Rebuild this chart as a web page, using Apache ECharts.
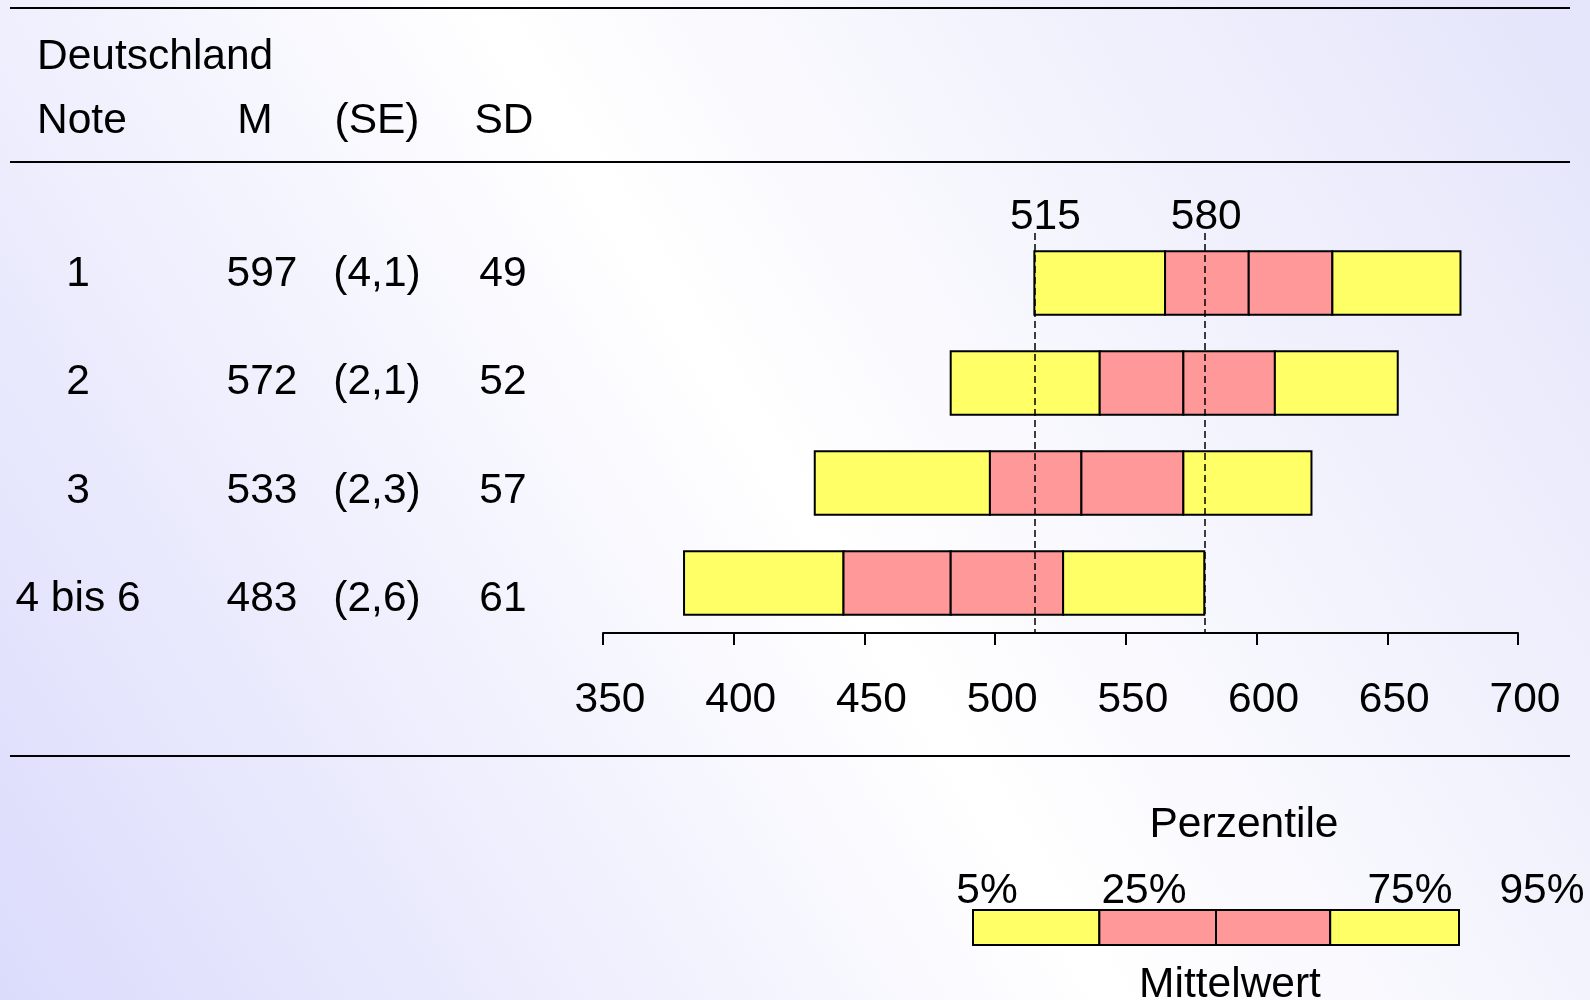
<!DOCTYPE html>
<html>
<head>
<meta charset="utf-8">
<title>Deutschland Perzentile</title>
<script src="https://cdn.jsdelivr.net/npm/echarts@6/dist/echarts.min.js"></script>
<style>
  html, body { margin: 0; padding: 0; }
  #main { width: 1590px; height: 1000px; }
</style>
</head>
<body>
<div id="main"></div>
<script>
  // Daten
  var notes = ['1', '2', '3', '4 bis 6']
  var meanVals = [597, 572, 533, 483]
  var seVals = [4.1, 2.1, 2.3, 2.6]
  var sdVals = [49, 52, 57, 61]
  var p5 = [515, 483, 431, 381]
  var p25 = [565, 540, 498, 442]
  var p75 = [629, 607, 572, 526]
  var p95 = [678, 654, 621, 580]
  var refLines = [515, 580]
  var axisTicks = [350, 400, 450, 500, 550, 600, 650, 700]
  // Legende: Lage der Trennstriche im Schema (0..100)
  var legendKey = [0, 26, 50, 73.5, 100]

  var FONT = '"Liberation Sans", Arial, Helvetica, sans-serif'
  var FS = 42.5
  var YELLOW = '#ffff66'
  var PINK = '#ff9999'

  var bandData = notes.map(function (n, i) {
    return [i, p5[i], p25[i], meanVals[i], p75[i], p95[i]]
  })

  function renderBand(ratio) {
    return function (params, api) {
      var cat = api.value(0)
      var h = api.size([0, 1])[1] * ratio
      var fills = [YELLOW, PINK, PINK, YELLOW]
      var children = []
      for (var k = 0; k < 4; k++) {
        var a = api.coord([api.value(k + 1), cat])
        var b = api.coord([api.value(k + 2), cat])
        children.push({
          type: 'rect',
          shape: { x: a[0], y: a[1] - h / 2, width: b[0] - a[0], height: h },
          style: { fill: fills[k], stroke: '#000', lineWidth: 2 },
        })
      }
      return { type: 'group', children: children }
    }
  }

  function seText(v) {
    return '(' + v.toFixed(1).replace('.', ',') + ')'
  }

  function txt(s, x, y, align) {
    return {
      type: 'text',
      x: x,
      y: y,
      silent: true,
      style: {
        text: s,
        fill: '#000',
        font: FS + 'px ' + FONT,
        textAlign: align || 'left',
        textVerticalAlign: 'middle',
      },
    }
  }

  function rule(y) {
    return {
      type: 'line',
      silent: true,
      shape: { x1: 10, y1: y, x2: 1570, y2: y },
      style: { stroke: '#000', lineWidth: 2 },
    }
  }

  var cell = function (w) {
    return { width: w, align: 'center', fontSize: FS, fontFamily: FONT, color: '#000' }
  }

  var myChart = echarts.init(document.getElementById('main'))

  var option = {
    animation: false,
    backgroundColor: new echarts.graphic.LinearGradient(0, 1, 1, 0, [
      { offset: 0, color: '#dbdbfc' },
      { offset: 0.5, color: '#ffffff' },
      { offset: 1, color: '#e4e4fb' },
    ]),
    textStyle: { fontFamily: FONT },
    grid: [
      { left: 603, right: 72, top: 233, height: 400 },
      { left: 576, width: 1, top: 220.4, height: 432.8 },
      { left: 973, width: 486, top: 910, height: 35 },
    ],
    xAxis: [
      {
        gridIndex: 0,
        type: 'value',
        min: axisTicks[0],
        max: axisTicks[axisTicks.length - 1],
        interval: 50,
        splitLine: { show: false },
        axisLine: { show: true, onZero: false, lineStyle: { color: '#000', width: 2 } },
        axisTick: { show: true, length: 12, lineStyle: { color: '#000', width: 2 } },
        axisLabel: {
          fontSize: FS,
          color: '#000',
          margin: 46,
          padding: [0, 0, 0, 14],
          fontFamily: FONT,
        },
      },
      { gridIndex: 1, type: 'value', show: false, min: 0, max: 1 },
      { gridIndex: 2, type: 'value', show: false, min: 0, max: 100 },
    ],
    yAxis: [
      {
        gridIndex: 0,
        type: 'category',
        data: notes,
        inverse: true,
        show: false,
      },
      {
        gridIndex: 1,
        type: 'category',
        data: notes,
        inverse: true,
        axisLine: { show: false },
        axisTick: { show: false },
        splitLine: { show: false },
        axisLabel: {
          margin: 0,
          align: 'right',
          fontSize: FS,
          color: '#000',
          fontFamily: FONT,
          formatter: function (value, idx) {
            return '{n|' + value + '}{m|' + meanVals[idx] + '}{se|' +
              seText(seVals[idx]) + '}{sd|' + sdVals[idx] + '}'
          },
          rich: {
            n: cell(244),
            m: cell(124),
            se: cell(106),
            sd: cell(146),
          },
        },
      },
      {
        gridIndex: 2,
        type: 'category',
        data: ['Legende'],
        show: false,
      },
    ],
    series: [
      {
        type: 'custom',
        name: 'Perzentile',
        xAxisIndex: 0,
        yAxisIndex: 0,
        renderItem: renderBand(0.635),
        encode: { x: [1, 2, 3, 4, 5], y: 0 },
        data: bandData,
        silent: true,
        z: 2,
        markLine: {
          silent: true,
          symbol: ['none', 'none'],
          lineStyle: { color: '#000', width: 1.5, type: [7, 4] },
          label: {
            show: true,
            position: 'start',
            distance: -6,
            fontSize: FS,
            color: '#000',
            fontFamily: FONT,
            formatter: function (p) {
              return p.value
            },
          },
          data: [
            { xAxis: refLines[0], label: { offset: [11, 0] } },
            { xAxis: refLines[1], label: { offset: [2, 0] } },
          ],
          z: 3,
        },
      },
      {
        type: 'custom',
        name: 'Legende',
        xAxisIndex: 2,
        yAxisIndex: 2,
        renderItem: renderBand(1),
        encode: { x: [1, 2, 3, 4, 5], y: 0 },
        data: [[0].concat(legendKey)],
        silent: true,
      },
    ],
    graphic: [
      rule(8),
      rule(162),
      rule(756),
      txt('Deutschland', 37, 57),
      txt('Note', 37, 121),
      txt('M', 255, 121, 'center'),
      txt('(SE)', 377, 121, 'center'),
      txt('SD', 504, 121, 'center'),
      txt('Perzentile', 1244, 825, 'center'),
      txt('5%', 987, 891, 'center'),
      txt('25%', 1144, 891, 'center'),
      txt('75%', 1410, 891, 'center'),
      txt('95%', 1542, 891, 'center'),
      txt('Mittelwert', 1230, 985, 'center'),
    ],
  }

  myChart.setOption(option)
</script>
</body>
</html>
